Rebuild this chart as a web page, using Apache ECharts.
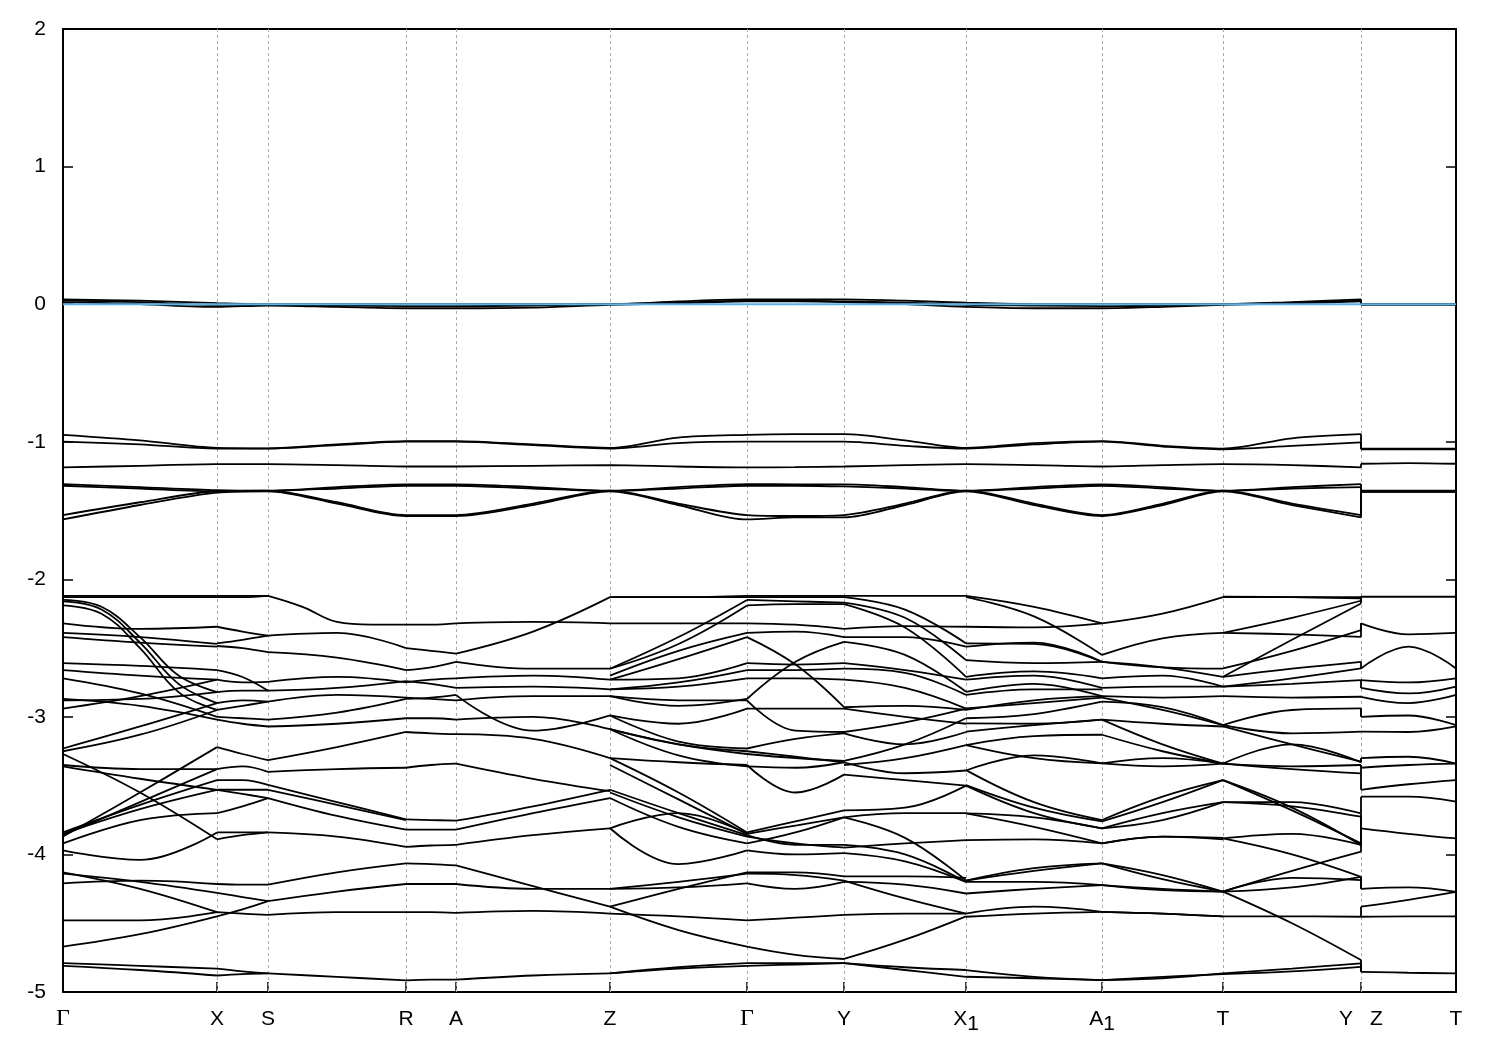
<!DOCTYPE html>
<html><head><meta charset="utf-8">
<script src="https://cdn.jsdelivr.net/npm/echarts@6/dist/echarts.min.js"></script>
<style>html,body{margin:0;padding:0;background:#fff}#c{width:1500px;height:1050px}</style>
</head><body><div id="c"></div>
<script>
// k-path knots (path distance units)
const kPath1 = [0,77,154,205,274,343,393,470,547,615,684,732,781,842,903,971,1039,1100,1160,1229,1298];
const kPath2 = [1298,1345.5,1393];
const tickPos = [0,154,205,343,393,547,684,781,903,1039,1160,1298,1393];
const tickLabels = ['Γ','X','S','R','A','Z','Γ','Y','X1','A1','T','Y|Z','T'];
const yTicks = {min:-5, max:2, step:1};
const fermiLevel = 0;

// flat bands: 21 values on path 1 + 3 values on path 2 (Z-T)
const bandL1 = [0.035,0.025,0.008,0.0,0.0,0.0,0.0,0.0,0.0,0.02,0.035,0.035,0.035,0.025,0.01,0.0,0.0,0.0,0.0,0.015,0.035, 0,0,0];
const bandL2 = [0.025,0.015,-0.005,-0.005,-0.01,-0.015,-0.015,-0.01,0.0,0.01,0.025,0.025,0.02,0.01,-0.005,-0.01,-0.015,-0.01,0.0,0.01,0.025, 0,0,0];
const bandL3 = [0.015,0.0,-0.02,-0.01,-0.02,-0.03,-0.03,-0.025,-0.005,0.005,0.02,0.02,0.015,0.0,-0.02,-0.03,-0.03,-0.02,-0.005,0.005,0.02, -0.005,-0.005,-0.005];
const bandU1 = [-0.95,-0.99,-1.045,-1.048,-1.02,-0.995,-0.995,-1.02,-1.045,-0.97,-0.95,-0.945,-0.945,-0.99,-1.045,-1.01,-0.995,-1.03,-1.05,-0.975,-0.945, -1.05,-1.05,-1.05];
const bandU2 = [-1.00,-1.02,-1.05,-1.05,-1.025,-1.00,-1.00,-1.025,-1.05,-1.01,-1.00,-1.00,-1.00,-1.03,-1.05,-1.02,-1.00,-1.035,-1.055,-1.03,-1.005, -1.055,-1.055,-1.055];
const bandU3 = [-1.187,-1.175,-1.163,-1.163,-1.17,-1.18,-1.18,-1.175,-1.17,-1.18,-1.187,-1.185,-1.18,-1.17,-1.163,-1.17,-1.18,-1.17,-1.163,-1.17,-1.187, -1.16,-1.155,-1.16];
const bandU4 = [-1.308,-1.33,-1.352,-1.356,-1.33,-1.31,-1.31,-1.33,-1.356,-1.33,-1.308,-1.31,-1.31,-1.33,-1.356,-1.33,-1.31,-1.33,-1.356,-1.33,-1.308, -1.356,-1.356,-1.356];
const bandU5 = [-1.32,-1.34,-1.36,-1.358,-1.34,-1.32,-1.32,-1.34,-1.358,-1.34,-1.32,-1.32,-1.325,-1.34,-1.358,-1.34,-1.32,-1.34,-1.358,-1.34,-1.33, -1.362,-1.362,-1.362];
const bandU6 = [-1.533,-1.44,-1.36,-1.356,-1.44,-1.533,-1.533,-1.45,-1.356,-1.45,-1.533,-1.54,-1.533,-1.45,-1.356,-1.45,-1.533,-1.45,-1.356,-1.45,-1.533, -1.36,-1.36,-1.36];
const bandU7 = [-1.565,-1.46,-1.37,-1.36,-1.45,-1.54,-1.54,-1.46,-1.36,-1.46,-1.565,-1.55,-1.55,-1.46,-1.36,-1.46,-1.54,-1.46,-1.36,-1.46,-1.55, -1.365,-1.365,-1.365];

// dense region: per segment curves, values evenly spaced from segment start to end
const segGX = [
[-2.12,-2.12,-2.12],[-2.13,-2.13,-2.13],[-2.15,-2.20,-2.42,-2.70,-2.82],[-2.16,-2.22,-2.46,-2.76,-2.90],[-2.19,-2.25,-2.50,-2.82,-2.95],
[-2.32,-2.36,-2.345],[-2.39,-2.42,-2.47],[-2.42,-2.46,-2.49],[-2.61,-2.63,-2.66],[-2.66,-2.70,-2.73],
[-2.72,-2.83,-3.00],[-2.87,-2.92,-3.02],[-2.88,-2.87,-2.82],[-2.94,-2.85,-2.73],[-3.23,-3.07,-2.90],
[-3.25,-3.13,-2.95],[-3.27,-3.55,-3.89],[-3.35,-3.38,-3.38],[-3.36,-3.45,-3.53],[-3.84,-3.64,-3.46],
[-3.85,-3.67,-3.53],[-3.86,-3.62,-3.38],[-3.87,-3.55,-3.22],[-3.92,-3.75,-3.70],[-3.97,-4.04,-3.84],
[-4.13,-4.25,-4.42],[-4.14,-4.20,-4.28],[-4.21,-4.19,-4.215],[-4.48,-4.48,-4.42],[-4.67,-4.58,-4.45],
[-4.79,-4.81,-4.83],[-4.81,-4.84,-4.88]];
const segXS = [
[-2.12,-2.12,-2.12],[-2.13,-2.13,-2.12],[-2.345,-2.38,-2.41],[-2.466,-2.44,-2.41],[-2.485,-2.50,-2.53],
[-2.66,-2.71,-2.81],[-2.73,-2.75,-2.745],[-2.82,-2.81,-2.81],[-2.90,-2.88,-2.89],[-2.95,-2.92,-2.89],
[-3.00,-3.01,-3.02],[-3.02,-3.05,-3.07],[-3.22,-3.27,-3.315],[-3.38,-3.36,-3.40],[-3.46,-3.46,-3.495],
[-3.53,-3.53,-3.53],[-3.53,-3.56,-3.59],[-3.70,-3.65,-3.59],[-3.84,-3.84,-3.84],[-3.89,-3.86,-3.84],
[-4.215,-4.22,-4.22],[-4.28,-4.31,-4.34],[-4.42,-4.43,-4.44],[-4.45,-4.40,-4.34],[-4.83,-4.85,-4.865],
[-4.88,-4.87,-4.865]];
const segSR = [
[-2.12,-2.20,-2.31,-2.33,-2.33],[-2.41,-2.39,-2.50],[-2.53,-2.57,-2.66],[-2.745,-2.71,-2.75],[-2.81,-2.79,-2.74],
[-2.89,-2.84,-2.86],[-3.02,-2.97,-2.87],[-3.07,-3.05,-3.01],[-3.315,-3.22,-3.11],[-3.40,-3.38,-3.37],
[-3.495,-3.62,-3.745],[-3.53,-3.64,-3.75],[-3.59,-3.72,-3.82],[-3.84,-3.87,-3.945],[-4.22,-4.13,-4.065],[-4.34,-4.27,-4.215],
[-4.44,-4.42,-4.42],[-4.865,-4.89,-4.915]];
const segRA = [
[-2.33,-2.33,-2.32],[-2.50,-2.52,-2.54],[-2.66,-2.64,-2.60],[-2.75,-2.73,-2.72],[-2.74,-2.76,-2.79],
[-2.86,-2.87,-2.88],[-2.87,-2.86,-2.84],[-3.01,-3.01,-3.02],[-3.11,-3.12,-3.126],[-3.37,-3.35,-3.34],
[-3.745,-3.75,-3.755],[-3.82,-3.82,-3.82],[-3.945,-3.935,-3.93],[-4.065,-4.07,-4.08],[-4.215,-4.215,-4.215],
[-4.42,-4.42,-4.425],[-4.915,-4.91,-4.91]];
const segAZ = [
[-2.54,-2.38,-2.13],[-2.32,-2.31,-2.32],[-2.60,-2.65,-2.65],[-2.72,-2.70,-2.73],[-2.79,-2.78,-2.80],
[-2.88,-2.85,-2.85],[-2.84,-3.10,-2.99],[-3.02,-3.00,-3.09],[-3.126,-3.16,-3.30],[-3.34,-3.45,-3.54],
[-3.755,-3.65,-3.53],[-3.82,-3.70,-3.59],[-3.93,-3.86,-3.81],[-4.08,-4.23,-4.38],[-4.215,-4.25,-4.25],
[-4.425,-4.41,-4.43],[-4.91,-4.88,-4.865]];
const segZG = [
[-2.13,-2.13,-2.12],[-2.13,-2.13,-2.13],[-2.65,-2.42,-2.15],[-2.65,-2.47,-2.19],[-2.70,-2.52,-2.39],
[-2.73,-2.58,-2.42],[-2.32,-2.32,-2.32],[-2.73,-2.72,-2.61],[-2.80,-2.75,-2.66],[-2.80,-2.78,-2.72],
[-2.85,-2.92,-2.87],[-2.85,-2.88,-2.88],[-2.99,-3.05,-2.94],[-2.99,-3.18,-3.23],[-3.09,-3.20,-3.25],
[-3.09,-3.20,-3.27],[-3.30,-3.33,-3.35],[-3.09,-3.28,-3.36],[-3.30,-3.55,-3.84],[-3.35,-3.60,-3.85],
[-3.53,-3.70,-3.86],[-3.55,-3.73,-3.87],[-3.59,-3.80,-3.92],[-3.81,-3.70,-3.85],[-3.81,-4.07,-3.97],
[-4.25,-4.20,-4.14],[-4.25,-4.24,-4.21],[-4.38,-4.25,-4.13],[-4.38,-4.55,-4.67],[-4.43,-4.45,-4.48],
[-4.865,-4.82,-4.79],[-4.865,-4.83,-4.81]];
const segGY = [
[-2.12,-2.12,-2.12],[-2.13,-2.13,-2.13],[-2.15,-2.16,-2.17],[-2.19,-2.18,-2.18],[-2.32,-2.33,-2.36],
[-2.39,-2.38,-2.42],[-2.42,-2.62,-2.93],[-2.61,-2.62,-2.61],[-2.66,-2.66,-2.65],[-2.72,-2.72,-2.73],
[-2.87,-2.60,-2.455],[-2.88,-3.10,-3.11],[-2.94,-2.94,-2.94],[-3.23,-3.16,-3.12],[-3.25,-3.29,-3.33],
[-3.27,-3.30,-3.32],[-3.35,-3.55,-3.42],[-3.36,-3.37,-3.33],[-3.84,-3.76,-3.68],[-3.85,-3.79,-3.73],
[-3.86,-3.93,-3.93],[-3.87,-3.92,-3.95],[-3.92,-3.84,-3.73],[-3.97,-4.00,-3.99],[-4.13,-4.13,-4.16],
[-4.14,-4.15,-4.19],[-4.21,-4.25,-4.20],[-4.48,-4.46,-4.44],[-4.67,-4.73,-4.76],[-4.79,-4.79,-4.79],
[-4.81,-4.80,-4.79]];
const segYX1 = [
[-2.12,-2.12,-2.12],[-2.13,-2.22,-2.466],[-2.17,-2.28,-2.588],[-2.18,-2.35,-2.709],[-2.36,-2.34,-2.345],
[-2.42,-2.42,-2.49],[-2.455,-2.55,-2.818],[-2.61,-2.66,-2.73],[-2.65,-2.68,-2.84],[-2.73,-2.79,-2.94],
[-2.93,-2.92,-2.95],[-2.94,-3.00,-3.05],[-3.11,-3.04,-2.94],[-3.12,-3.20,-3.11],[-3.32,-3.20,-3.01],
[-3.33,-3.41,-3.39],[-3.42,-3.46,-3.50],[-3.35,-3.30,-3.205],[-3.68,-3.66,-3.50],[-3.73,-3.88,-4.19],
[-3.73,-3.70,-3.70],[-3.93,-4.00,-4.20],[-3.95,-3.92,-3.896],[-3.99,-4.05,-4.20],[-4.16,-4.16,-4.17],
[-4.19,-4.32,-4.43],[-4.20,-4.22,-4.284],[-4.44,-4.43,-4.43],[-4.76,-4.62,-4.45],[-4.79,-4.82,-4.84],
[-4.79,-4.84,-4.89]];
const segX1A1 = [
[-2.12,-2.20,-2.32],[-2.13,-2.27,-2.55],[-2.345,-2.35,-2.32],[-2.466,-2.47,-2.60],[-2.49,-2.46,-2.60],
[-2.588,-2.61,-2.60],[-2.709,-2.67,-2.72],[-2.73,-2.70,-2.79],[-2.818,-2.76,-2.85],[-2.84,-2.80,-2.80],
[-2.939,-2.90,-2.86],[-2.95,-2.88,-2.85],[-3.01,-2.98,-2.89],[-3.048,-3.05,-3.02],[-3.108,-3.06,-3.02],
[-3.205,-3.14,-3.13],[-3.39,-3.28,-3.338],[-3.205,-3.30,-3.338],[-3.387,-3.62,-3.75],[-3.496,-3.66,-3.76],
[-3.50,-3.70,-3.81],[-3.702,-3.73,-3.81],[-3.702,-3.80,-3.92],[-3.896,-3.89,-3.92],[-4.19,-4.10,-4.065],
[-4.19,-4.12,-4.065],[-4.20,-4.20,-4.223],[-4.284,-4.25,-4.223],[-4.43,-4.38,-4.417],[-4.453,-4.43,-4.417],
[-4.841,-4.89,-4.913],[-4.889,-4.90,-4.913]];
const segA1T = [
[-2.32,-2.25,-2.13],[-2.55,-2.43,-2.39],[-2.60,-2.64,-2.65],[-2.60,-2.64,-2.71],[-2.72,-2.70,-2.78],
[-2.79,-2.78,-2.78],[-2.85,-2.86,-2.85],[-2.86,-2.95,-3.06],[-2.89,-2.93,-3.06],[-3.02,-3.05,-3.07],
[-3.02,-3.20,-3.34],[-3.13,-3.25,-3.34],[-3.338,-3.30,-3.34],[-3.338,-3.36,-3.34],[-3.75,-3.58,-3.46],
[-3.76,-3.62,-3.46],[-3.81,-3.70,-3.62],[-3.81,-3.75,-3.62],[-3.92,-3.87,-3.88],[-3.92,-3.87,-3.89],
[-4.065,-4.15,-4.27],[-4.065,-4.18,-4.27],[-4.223,-4.26,-4.27],[-4.223,-4.25,-4.27],[-4.417,-4.43,-4.45],
[-4.417,-4.43,-4.45],[-4.913,-4.90,-4.865],[-4.913,-4.89,-4.87]];
const segTY = [
[-2.127,-2.13,-2.139],[-2.13,-2.13,-2.13],[-2.389,-2.28,-2.156],[-2.709,-2.44,-2.176],[-2.389,-2.40,-2.418],
[-2.648,-2.52,-2.369],[-2.71,-2.65,-2.60],[-2.78,-2.72,-2.648],[-2.78,-2.76,-2.733],[-2.85,-2.86,-2.854],
[-3.06,-2.95,-2.939],[-3.06,-3.12,-3.108],[-3.07,-3.20,-3.326],[-3.34,-3.20,-3.33],[-3.34,-3.38,-3.411],
[-3.34,-3.36,-3.35],[-3.46,-3.68,-3.92],[-3.46,-3.66,-3.932],[-3.62,-3.62,-3.702],[-3.62,-3.65,-3.726],
[-3.884,-3.85,-3.93],[-3.884,-4.00,-4.163],[-4.27,-4.12,-3.98],[-4.27,-4.17,-4.187],[-4.27,-4.50,-4.768],
[-4.27,-4.24,-4.163],[-4.45,-4.45,-4.453],[-4.865,-4.83,-4.792],[-4.87,-4.85,-4.817]];
const segZT = [
[-2.127,-2.127,-2.127],[-2.32,-2.40,-2.39],[-2.648,-2.49,-2.648],[-2.733,-2.75,-2.72],[-2.79,-2.83,-2.78],
[-2.854,-2.90,-2.84],[-3.0,-2.99,-3.06],[-3.108,-3.11,-3.07],[-3.30,-3.29,-3.34],[-3.37,-3.35,-3.34],
[-3.53,-3.49,-3.46],[-3.58,-3.58,-3.617],[-3.81,-3.85,-3.884],[-4.25,-4.24,-4.272],[-4.38,-4.33,-4.272],
[-4.453,-4.45,-4.45],[-4.853,-4.86,-4.865]];

const segments = [
  [0,154,segGX],[154,205,segXS],[205,343,segSR],[343,393,segRA],[393,547,segAZ],[547,684,segZG],
  [684,781,segGY],[781,903,segYX1],[903,1039,segX1A1],[1039,1160,segA1T],[1160,1298,segTY],[1298,1393,segZT]
];
const flatBands = [bandL1,bandL2,bandL3,bandU1,bandU2,bandU3,bandU4,bandU5,bandU6,bandU7];

const series = [];
function addLine(data, smooth, z) {
  series.push({type:'line', data, smooth, showSymbol:false, symbol:'none', silent:true,
    animation:false, clip:true, z: z || 3, emphasis:{disabled:true},
    lineStyle:{color:'#000', width:1.8}});
}
// flat bands
flatBands.forEach(b => {
  const p1 = kPath1.map((k,i)=>[k,b[i]]);
  const p2 = kPath2.map((k,i)=>[k,b[21+i]]);
  addLine(p1, 0.3); addLine(p2, 0.3);
  addLine([[kPath1[20], b[20]],[kPath2[0], b[21]]], false);
});
// dense segments
segments.forEach(([k0,k1,curves]) => {
  curves.forEach(c => {
    const n = c.length;
    addLine(c.map((e,i)=>[k0 + (k1-k0)*i/(n-1), e]), 0.4);
  });
});
// vertical jumps at the Y|Z break, derived from end / start energies
const yEnds = segTY.map(c=>c[c.length-1]);
const zStarts = segZT.map(c=>c[0]);
function nearest(v, arr){ return arr.reduce((a,b)=>Math.abs(b-v)<Math.abs(a-v)?b:a); }
yEnds.forEach(v => addLine([[1298,v],[1298,nearest(v,zStarts)]], false));
zStarts.forEach(v => addLine([[1298,v],[1298,nearest(v,yEnds)]], false));

// Fermi level
series.push({type:'line', data:[[0,fermiLevel],[1393,fermiLevel]], showSymbol:false, symbol:'none',
  silent:true, animation:false, z:5, lineStyle:{color:'#56B4E9', width:2},
  markLine:{silent:true, symbol:'none', animation:false, label:{show:false},
    lineStyle:{color:'#aaaaaa', width:1, type:[3,3]}, z:1,
    data: tickPos.slice(1,-1).map(v=>({xAxis:v}))}});

function fmtLabel(v){
  const i = tickPos.indexOf(v);
  if (i < 0) return '';
  const t = tickLabels[i];
  if (t === 'Γ') return '{g|Γ}';
  if (t === 'Y|Z') return '{n|Y}{sp|}{n|Z}';
  if (t.length === 2) return '{n|' + t[0] + '}{s|' + t[1] + '}';
  return '{n|' + t + '}';
}

const chart = echarts.init(document.getElementById('c'), null, {renderer:'canvas'});
chart.setOption({
  animation:false,
  backgroundColor:'#fff',
  grid:{left:63, right:44, top:29, bottom:58, containLabel:false},
  xAxis:[{
    type:'value', min:0, max:1393, position:'bottom',
    axisLine:{show:true, onZero:false, lineStyle:{color:'#000', width:2}},
    axisTick:{show:true, inside:true, length:10, customValues:tickPos, lineStyle:{color:'#000', width:1.5}},
    axisLabel:{show:true, customValues:tickPos, margin:10, showMinLabel:true, showMaxLabel:true,
      formatter: fmtLabel,
      rich:{
        n:{fontSize:21, fontFamily:'Liberation Sans', color:'#000', lineHeight:34},
        g:{fontSize:24, fontFamily:'Liberation Serif', color:'#000', lineHeight:34},
        s:{fontSize:21, fontFamily:'Liberation Sans', color:'#000', lineHeight:24, padding:[10,0,0,0]},
        sp:{width:17, lineHeight:34}
      }},
    splitLine:{show:false}
  },{
    type:'value', min:0, max:1393, position:'top',
    axisLine:{show:true, onZero:false, lineStyle:{color:'#000', width:2}},
    axisTick:{show:false}, axisLabel:{show:false}, splitLine:{show:false}
  }],
  yAxis:[{
    type:'value', min:yTicks.min, max:yTicks.max, interval:yTicks.step, position:'left',
    axisLine:{show:true, onZero:false, lineStyle:{color:'#000', width:2}},
    axisTick:{show:true, inside:true, length:10, lineStyle:{color:'#000', width:1.5}},
    axisLabel:{fontSize:21, fontFamily:'Liberation Sans', color:'#000', margin:17},
    splitLine:{show:false}
  },{
    type:'value', min:yTicks.min, max:yTicks.max, interval:yTicks.step, position:'right',
    axisLine:{show:true, onZero:false, lineStyle:{color:'#000', width:2}},
    axisTick:{show:true, inside:true, length:10, lineStyle:{color:'#000', width:1.5}},
    axisLabel:{show:false}, splitLine:{show:false}
  }],
  series: series
});
</script>
</body></html>
